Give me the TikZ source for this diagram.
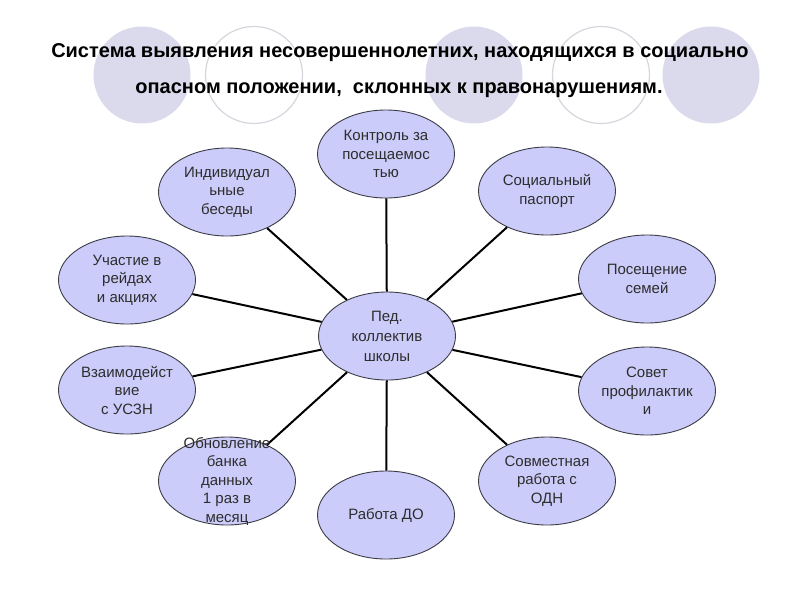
\documentclass[tikz,border=0pt]{standalone}
\usepackage{fontspec}
\setmainfont{Liberation Sans}
\usetikzlibrary{shapes.geometric}
\definecolor{bgfill}{RGB}{218,218,236}
\definecolor{bgline}{RGB}{214,214,222}
\definecolor{bubfill}{RGB}{204,204,250}
\definecolor{bubline}{RGB}{60,60,70}
\definecolor{txtcol}{RGB}{45,45,45}
\tikzset{
  bgdisc/.style={circle,fill=bgfill,draw=none,minimum size=97pt,inner sep=0pt},
  bgring/.style={circle,fill=white,draw=bgline,line width=1.2pt,minimum size=97pt,inner sep=0pt},
  bub/.style={ellipse,fill=bubfill,draw=bubline,line width=0.9pt,minimum width=137pt,minimum height=88pt,inner sep=0pt},
  bubtxt/.style={align=center,text=txtcol,font=\fontsize{15}{18.5}\selectfont,inner sep=0pt},
  conn/.style={draw=black,line width=2pt},
  ttl/.style={font=\bfseries\fontsize{20}{24}\selectfont,text=black,inner sep=0pt}
}
\begin{document}
\begin{tikzpicture}[x=1pt,y=-1pt]
\useasboundingbox[fill=white] (0,0) rectangle (800,600);
% background decoration
\node[bgdisc] (d1) at (142,75) {};
\node[bgring] (r1) at (254,75) {};
\node[bgdisc] (d2) at (474,75) {};
\node[bgring] (r2) at (601,75) {};
\node[bgdisc] (d3) at (711,75) {};
% title
\node[ttl] (t1) at (400,53) {Система выявления несовершеннолетних, находящихся в социально};
\node[ttl] (t2) at (399,90) {опасном положении,\ \ склонных к правонарушениям.};
% bubbles
\node[bub] (c) at (387,336) {};
\node[bub] (kon) at (386,154) {};
\node[bub] (ind) at (227,192) {};
\node[bub] (soc) at (547,191) {};
\node[bub] (uch) at (127,280) {};
\node[bub] (pos) at (647,279) {};
\node[bub] (vza) at (127,390) {};
\node[bub] (sov) at (647,391) {};
\node[bub] (obn) at (227,481) {};
\node[bub] (sodn) at (547,481) {};
\node[bub] (rab) at (386,515) {};
% connectors
\foreach \n in {kon,ind,soc,uch,pos,vza,sov,obn,sodn,rab}
  \draw[conn] (c) -- (\n);
% texts
\node[bubtxt] (xc) at (c) {Пед.\\[1.5pt]коллектив\\[1.5pt]школы};
\node[bubtxt] (xkon) at (kon) {Контроль за\\посещаемос\\тью};
\node[bubtxt] (xind) at (ind) {Индивидуал\\ьные\\беседы};
\node[bubtxt] (xsoc) at (soc) {Социальный\\паспорт};
\node[bubtxt] (xuch) at (uch) {Участие в\\рейдах\\и акциях};
\node[bubtxt] (xpos) at (pos) {Посещение\\семей};
\node[bubtxt] (xvza) at (vza) {Взаимодейст\\вие\\с УСЗН};
\node[bubtxt] (xsov) at (sov) {Совет\\профилактик\\и};
\node[bubtxt] (xobn) at (obn) {Обновление\\банка\\данных\\1 раз в\\месяц};
\node[bubtxt] (xsodn) at (sodn) {Совместная\\работа с\\ОДН};
\node[bubtxt] (xrab) at (rab) {Работа ДО};
\end{tikzpicture}
\end{document}
